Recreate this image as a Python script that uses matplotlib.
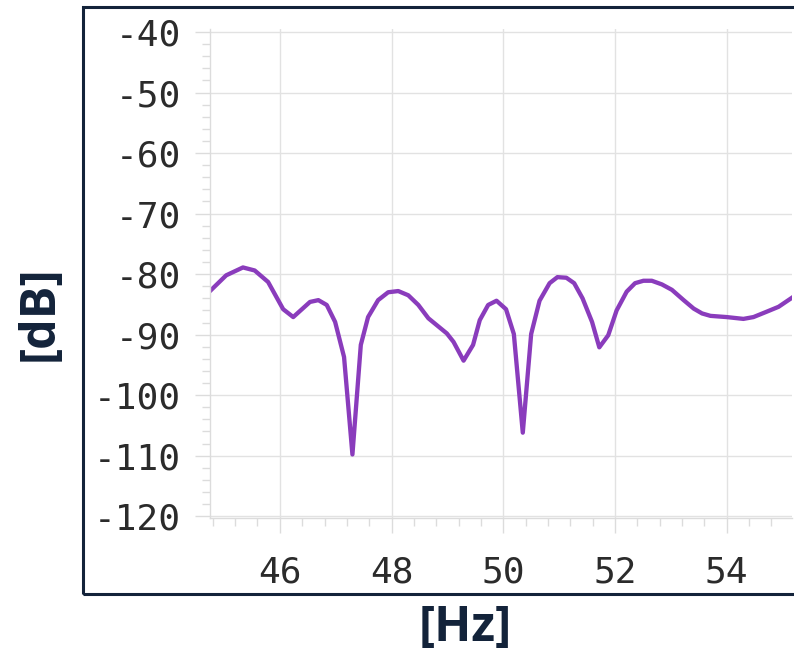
import matplotlib
matplotlib.use('Agg')
import matplotlib.pyplot as plt
from matplotlib.patches import Rectangle
from matplotlib.ticker import MultipleLocator

plt.rcParams['axes.unicode_minus'] = False

### Data
freq_hz = [44.75, 45.04, 45.34, 45.55, 45.79, 46.06, 46.24, 46.54, 46.69, 46.84,
           46.99, 47.15, 47.30, 47.45, 47.58, 47.76, 47.94, 48.12, 48.30, 48.48,
           48.66, 48.99, 49.11, 49.29, 49.46, 49.58, 49.73, 49.88, 50.05, 50.19,
           50.35, 50.50, 50.65, 50.83, 50.97, 51.13, 51.27, 51.42, 51.59, 51.72,
           51.88, 52.03, 52.21, 52.36, 52.51, 52.66, 52.84, 53.02, 53.23, 53.41,
           53.56, 53.71, 54.00, 54.30, 54.48, 54.72, 54.93, 55.17]
level_db = [-82.8, -80.2, -78.9, -79.4, -81.3, -85.8, -87.1, -84.6, -84.3, -85.1,
            -87.9, -93.7, -109.8, -91.7, -87.1, -84.3, -83.0, -82.8, -83.5, -85.1,
            -87.3, -89.8, -91.2, -94.3, -91.7, -87.6, -85.1, -84.4, -85.8, -89.9,
            -106.2, -89.9, -84.4, -81.5, -80.5, -80.6, -81.5, -84.0, -87.9, -92.1,
            -90.1, -86.0, -82.9, -81.5, -81.1, -81.1, -81.7, -82.6, -84.3, -85.7,
            -86.5, -86.9, -87.1, -87.4, -87.1, -86.2, -85.4, -83.9]
x_label = '[Hz]'
y_label = '[dB]'

navy = '#13233a'
grey = '#dcdcdc'

fig = plt.figure(figsize=(7.94, 6.53), dpi=100)

### outer frame (right side runs off the picture)
fig.add_artist(Rectangle((83/794, 1 - 594/653), 1.0, (594 - 7)/653,
                         transform=fig.transFigure, fill=False,
                         edgecolor=navy, linewidth=2.2, clip_on=False))

ax = fig.add_axes([210/794, 1 - 518/653, (792 - 210)/794, (518 - 29)/653])
ax.plot(freq_hz, level_db, color='#8a3cbc', linewidth=3.1, solid_joinstyle='round')

ax.set_xlim(44.75, 55.17)
ax.set_ylim(-120.3, -39.5)
ax.xaxis.set_major_locator(MultipleLocator(2))
ax.xaxis.set_minor_locator(MultipleLocator(0.4))
ax.yaxis.set_major_locator(MultipleLocator(10))
ax.yaxis.set_minor_locator(MultipleLocator(2))

ax.grid(True, which='major', color='#e2e2e2', linewidth=1.0)
ax.set_axisbelow(True)
for s in ['top', 'right']:
    ax.spines[s].set_visible(False)
for s in ['left', 'bottom']:
    ax.spines[s].set_color(grey)
    ax.spines[s].set_linewidth(1.0)

ax.tick_params(which='major', length=11, width=1, color=grey,
               labelsize=26, labelcolor='#2b2b2b')
ax.tick_params(which='minor', length=5.5, width=1, color=grey)
ax.tick_params(axis='y', which='major', pad=10)
ax.tick_params(axis='x', which='major', pad=16)
for lab in ax.get_xticklabels() + ax.get_yticklabels():
    lab.set_family('DejaVu Sans Mono')

fig.text(0.5 * (420 + 510) / 794, 1 - 628/653, x_label, ha='center', va='center',
         fontsize=35, fontweight='bold', color=navy, family='Open Sans')
fig.text(40/794, 1 - 313/653, y_label, ha='center', va='center', rotation=90,
         fontsize=35, fontweight='bold', color=navy, family='Open Sans')

fig.savefig('out.png', dpi=100)
